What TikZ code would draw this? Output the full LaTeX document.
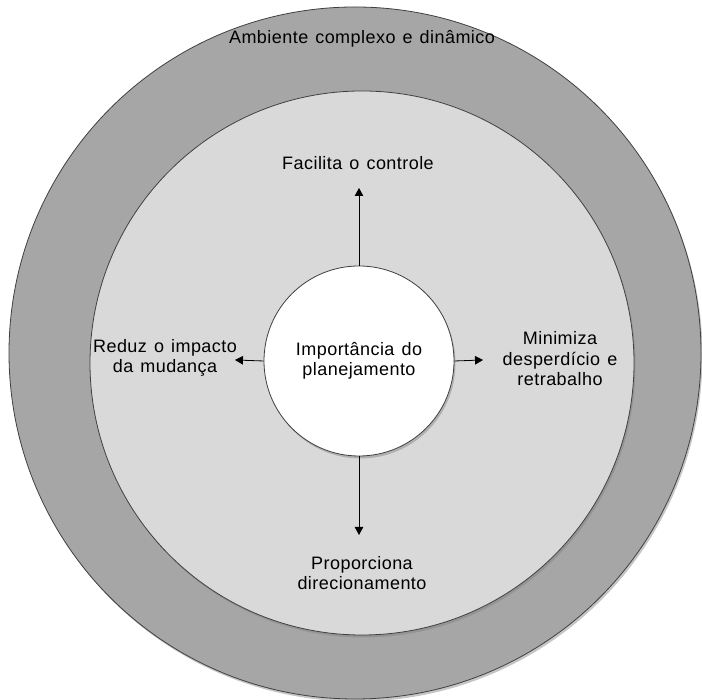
\documentclass[tikz,border=0pt]{standalone}
\usepackage{fontspec}
\setmainfont[LetterSpace=2.5,WordSpace=1.3]{Liberation Sans}
\usetikzlibrary{positioning,arrows.meta,shadows}

\definecolor{envgray}{HTML}{A6A6A6}
\definecolor{ringgray}{HTML}{D9D9D9}

\begin{document}
\begin{tikzpicture}[
    x=1pt, y=1pt,
    font=\fontsize{18}{20.5}\selectfont,
    disc/.style={ circle,
      draw=black!75,
      line width=0.8pt,
      anchor=center,
      drop shadow={shadow xshift=1.5pt, shadow yshift=-2.5pt, opacity=0.45}},
    label/.style={ align=center,
      anchor=center,
      text=black},
    arr/.style={ -{Triangle[length=8pt, width=8.5pt]},
      line width=0.8pt}]
    \useasboundingbox (0,0) rectangle (702,700);

    \node[disc, fill=envgray, minimum size=692pt] (env) at (355,347) {};
    \node[disc, fill=ringgray, minimum size=544pt] (ring) at (362,337) {};
    \node[disc, fill=white, minimum size=190pt, label] (core) at (359,339)
      {Importância do\\planejamento};

    \node[label] (amb) at (362,661) {Ambiente complexo e dinâmico};
    \node[label] (ctrl) at (358,537) {Facilita o controle};
    \node[label] (mud) at (165,342) {Reduz o impacto\\da mudança};
    \node[label] (desp) at (560,341) {Minimiza\\desperdício e\\retrabalho};
    \node[label] (dir) at (362,127) {Proporciona\\direcionamento};

    \coordinate (ctrlTip) at (359,512);
    \coordinate (mudTip) at (235,340);
    \coordinate (despTip) at (483,340);
    \coordinate (dirTip) at (359,165);

    \draw[arr] (core.north) -- (ctrlTip);
    \draw[arr] (core.west) -- (mudTip);
    \draw[arr] (core.east) -- (despTip);
    \draw[arr] (core.south) -- (dirTip);
\end{tikzpicture}
\end{document}
